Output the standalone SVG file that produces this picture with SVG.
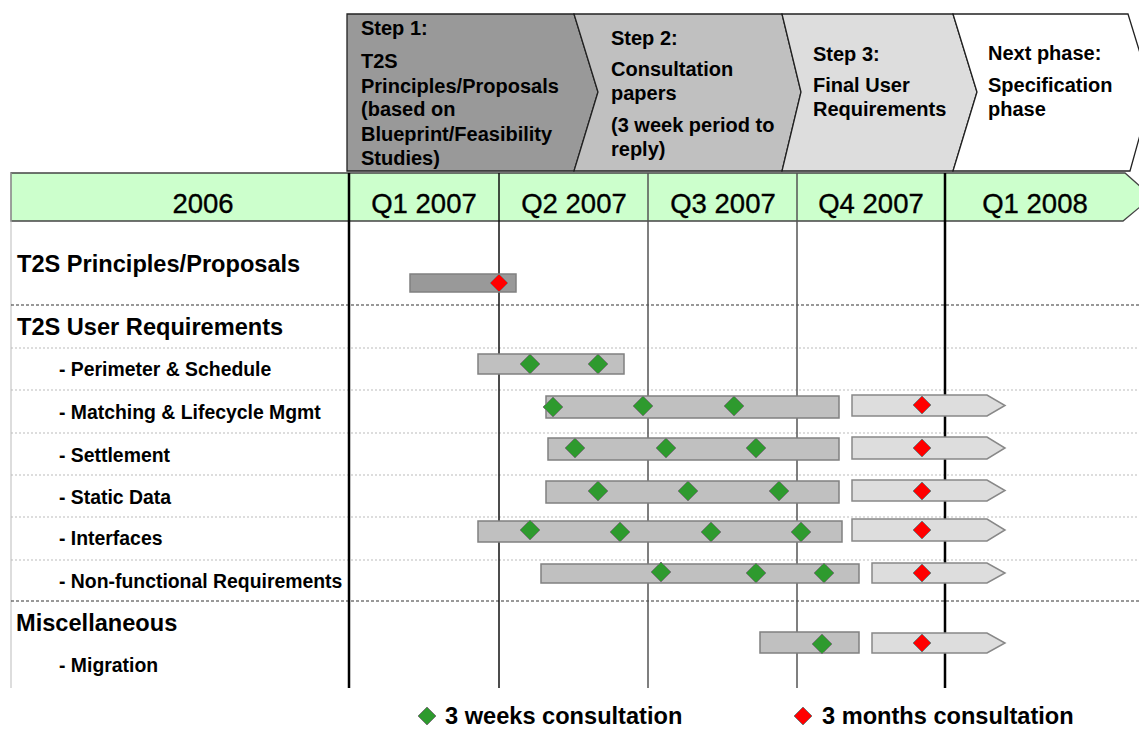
<svg xmlns="http://www.w3.org/2000/svg" width="1139" height="731" viewBox="0 0 1139 731">
<style>
.t{font-family:"Liberation Sans",Arial,sans-serif;fill:#000}
.step{font-size:20px;font-weight:bold}
.yr{font-size:27.5px;text-anchor:middle;stroke:#000;stroke-width:0.35}
.main{font-size:23.6px;font-weight:bold}
.sub{font-size:19.4px;font-weight:bold}
.leg{font-size:23.6px;font-weight:bold}
.bar{fill:#c0c0c0;stroke:#808080;stroke-width:1.5}
.bar2{fill:#999999;stroke:#808080;stroke-width:1.5}
.arr{fill:#dddddd;stroke:#888888;stroke-width:1.5}
.chev{stroke:#222;stroke-width:1.3}
.dot{stroke:#bbbbbb;stroke-width:1;stroke-dasharray:2,2}
.dash{stroke:#333;stroke-width:1.2;stroke-dasharray:3,2}
</style>
<defs>
<polygon id="dg" points="0,-10 10,0 0,10 -10,0" fill="#2e9a2e" stroke="#7a7a7a" stroke-width="1"/>
<polygon id="dgs" points="0,-9 9,0 0,9 -9,0" fill="#2e9a2e" stroke="#7a7a7a" stroke-width="1"/>
<polygon id="dr" points="0,-9 9,0 0,9 -9,0" fill="#ff0000" stroke="#7a7a7a" stroke-width="1"/>
</defs>
<rect width="1139" height="731" fill="#ffffff"/>

<g id="step1">
<polygon class="chev" points="347,14 574,14 598,92 574,171 347,171" fill="#999999"/>
<text class="t step" x="361" y="35">Step 1:</text>
<text class="t step" x="361" y="68">T2S</text>
<text class="t step" x="361" y="93">Principles/Proposals</text>
<text class="t step" x="361" y="116">(based on</text>
<text class="t step" x="361" y="141">Blueprint/Feasibility</text>
<text class="t step" x="361" y="165">Studies)</text>
</g>
<g id="step2">
<polygon class="chev" points="574,14 782,14 801,92 782,171 574,171 598,92" fill="#c0c0c0"/>
<text class="t step" x="611" y="45">Step 2:</text>
<text class="t step" x="611" y="76">Consultation</text>
<text class="t step" x="611" y="100">papers</text>
<text class="t step" x="611" y="132">(3 week period to</text>
<text class="t step" x="611" y="156">reply)</text>
</g>
<g id="step3">
<polygon class="chev" points="782,14 953,14 977,92 953,171 782,171 801,92" fill="#dddddd"/>
<text class="t step" x="813" y="61">Step 3:</text>
<text class="t step" x="813" y="92">Final User</text>
<text class="t step" x="813" y="116">Requirements</text>
</g>
<g id="nextphase">
<polygon class="chev" points="953,14 1128,14 1152,92 1130,171 953,171 977,92" fill="#ffffff"/>
<text class="t step" x="988" y="60">Next phase:</text>
<text class="t step" x="988" y="92">Specification</text>
<text class="t step" x="988" y="116">phase</text>
</g>

<g id="timeline-header">
<polygon points="11,173 1125,173 1152,197 1123,221 11,221" fill="#ccffcc" stroke="#444" stroke-width="1.3"/>
<text class="t yr" x="203" y="213">2006</text>
<text class="t yr" x="424" y="213">Q1 2007</text>
<text class="t yr" x="574" y="213">Q2 2007</text>
<text class="t yr" x="723" y="213">Q3 2007</text>
<text class="t yr" x="871" y="213">Q4 2007</text>
<text class="t yr" x="1035" y="213">Q1 2008</text>
</g>

<g id="grid">
<line x1="11" y1="173" x2="11" y2="688" stroke="#bbbbbb" stroke-width="1"/>
<line class="dash" x1="11" y1="305" x2="1139" y2="305"/>
<line class="dash" x1="11" y1="601" x2="1139" y2="601"/>
<line class="dot" x1="11" y1="348" x2="1139" y2="348"/>
<line class="dot" x1="11" y1="390" x2="1139" y2="390"/>
<line class="dot" x1="11" y1="433" x2="1139" y2="433"/>
<line class="dot" x1="11" y1="475" x2="1139" y2="475"/>
<line class="dot" x1="11" y1="517" x2="1139" y2="517"/>
<line class="dot" x1="11" y1="560" x2="1139" y2="560"/>
<line x1="349" y1="173" x2="349" y2="688" stroke="#000" stroke-width="2.5"/>
<line x1="499" y1="173" x2="499" y2="688" stroke="#111" stroke-width="1.5"/>
<line x1="648" y1="173" x2="648" y2="688" stroke="#555" stroke-width="1.5"/>
<line x1="797" y1="173" x2="797" y2="688" stroke="#555" stroke-width="1.5"/>
<line x1="945" y1="173" x2="945" y2="688" stroke="#000" stroke-width="2.5"/>
</g>

<g id="row-principles">
<text class="t main" x="17" y="272">T2S Principles/Proposals</text>
<rect class="bar2" x="410" y="274" width="106" height="18"/>
<use href="#dr" x="499" y="283"/>
</g>
<g id="row-user-req">
<text class="t main" x="17" y="335">T2S User Requirements</text>
</g>
<g id="row-perimeter">
<text class="t sub" x="59" y="376">- Perimeter &amp; Schedule</text>
<rect class="bar" x="478" y="354" width="146" height="20"/>
<use href="#dg" x="530" y="364"/>
<use href="#dg" x="598" y="364"/>
</g>
<g id="row-matching">
<text class="t sub" x="59" y="419">- Matching &amp; Lifecycle Mgmt</text>
<rect class="bar" x="546" y="396" width="293" height="22"/>
<use href="#dg" x="553" y="407"/>
<use href="#dg" x="643" y="406"/>
<use href="#dg" x="734" y="406"/>
<polygon class="arr" points="852,395 987,395 1005,405.5 987,416 852,416"/>
<use href="#dr" x="922" y="405"/>
</g>
<g id="row-settlement">
<text class="t sub" x="59" y="462">- Settlement</text>
<rect class="bar" x="548" y="438" width="291" height="22"/>
<use href="#dg" x="575" y="448"/>
<use href="#dg" x="666" y="448"/>
<use href="#dg" x="756" y="448"/>
<polygon class="arr" points="852,437 987,437 1005,448 987,459 852,459"/>
<use href="#dr" x="922" y="448"/>
</g>
<g id="row-static">
<text class="t sub" x="59" y="504">- Static Data</text>
<rect class="bar" x="546" y="481" width="293" height="22"/>
<use href="#dg" x="598" y="491"/>
<use href="#dg" x="688" y="491"/>
<use href="#dg" x="779" y="491"/>
<polygon class="arr" points="852,480 987,480 1005,490.5 987,501 852,501"/>
<use href="#dr" x="922" y="491"/>
</g>
<g id="row-interfaces">
<text class="t sub" x="59" y="545">- Interfaces</text>
<rect class="bar" x="478" y="521" width="364" height="21"/>
<use href="#dg" x="530" y="530"/>
<use href="#dg" x="620" y="532"/>
<use href="#dg" x="711" y="532"/>
<use href="#dg" x="801" y="532"/>
<polygon class="arr" points="852,519 987,519 1005,530 987,541 852,541"/>
<use href="#dr" x="922" y="530"/>
</g>
<g id="row-nonfunctional">
<text class="t sub" x="59" y="588">- Non-functional Requirements</text>
<rect class="bar" x="541" y="564" width="318" height="19"/>
<use href="#dg" x="661" y="572"/>
<use href="#dg" x="756" y="573"/>
<use href="#dg" x="824" y="573"/>
<polygon class="arr" points="872,563 987,563 1005,573 987,583 872,583"/>
<use href="#dr" x="922" y="573"/>
</g>
<g id="row-misc">
<text class="t main" x="16" y="631">Miscellaneous</text>
</g>
<g id="row-migration">
<text class="t sub" x="59" y="672">- Migration</text>
<rect class="bar" x="760" y="632" width="99" height="21"/>
<use href="#dg" x="822" y="644"/>
<polygon class="arr" points="872,633 987,633 1005,643 987,653 872,653"/>
<use href="#dr" x="922" y="643"/>
</g>

<g id="legend">
<use href="#dgs" x="427" y="716"/>
<text class="t leg" x="445" y="724">3 weeks consultation</text>
<use href="#dr" x="803" y="716"/>
<text class="t leg" x="822" y="724">3 months consultation</text>
</g>
<g id="connectors"></g>
</svg>
